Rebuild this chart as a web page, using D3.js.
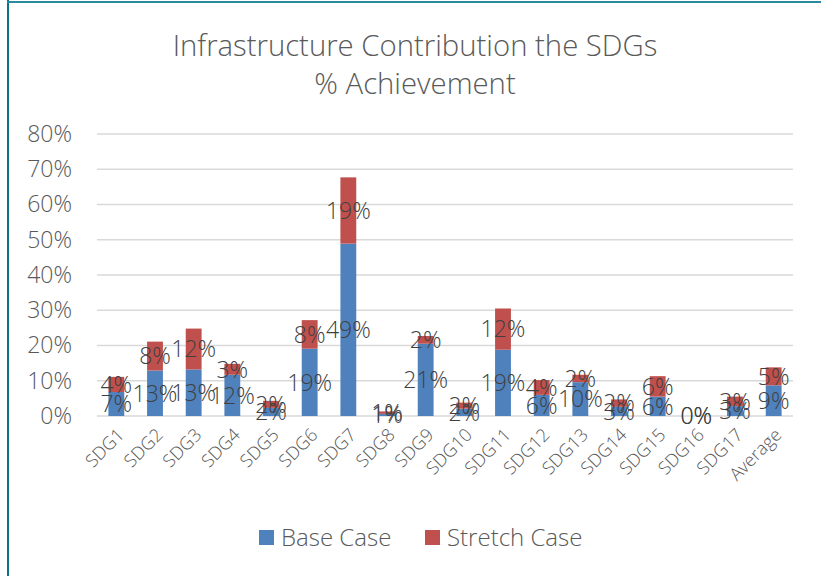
<!DOCTYPE html>
<html>
<head>
<meta charset="utf-8">
<script src="https://cdn.jsdelivr.net/npm/d3@7"></script>
<style>
  body { margin: 0; background: #fff; }
  text { font-family: "Open Sans", "Noto Sans", sans-serif; font-weight: 300; }
</style>
</head>
<body>
<div id="chart"></div>
<script>
// chart data
const categories = ['SDG1', 'SDG2', 'SDG3', 'SDG4', 'SDG5', 'SDG6', 'SDG7', 'SDG8', 'SDG9',
  'SDG10', 'SDG11', 'SDG12', 'SDG13', 'SDG14', 'SDG15', 'SDG16', 'SDG17', 'Average']
const baseCase = [0.068, 0.129, 0.132, 0.117, 0.023, 0.191, 0.489, 0.006, 0.205,
  0.021, 0.188, 0.060, 0.096, 0.026, 0.055, 0, 0.028, 0.087]
const stretchCase = [0.043, 0.082, 0.116, 0.031, 0.020, 0.081, 0.188, 0.007, 0.022,
  0.017, 0.117, 0.042, 0.021, 0.021, 0.058, 0, 0.027, 0.051]
const yTicks = [0, 0.1, 0.2, 0.3, 0.4, 0.5, 0.6, 0.7, 0.8]
const seriesNames = ['Base Case', 'Stretch Case']
const colors = ['#4f81bd', '#c0504d']

const width = 821, height = 576
const margin = {left: 97, right: 28, top: 134, bottom: 160}

let svg = d3.select('#chart').append('svg')
  .attr('width', width)
  .attr('height', height)

// frame lines (left + top)
svg.append('rect').attr('x', 7).attr('y', 0).attr('width', 2).attr('height', height).attr('fill', '#0b7489')
svg.append('rect').attr('x', 7).attr('y', 1).attr('width', width - 7).attr('height', 2).attr('fill', '#2a8a9e')

// title
svg.append('text')
  .attr('x', 415).attr('y', 56)
  .attr('text-anchor', 'middle')
  .attr('font-size', 29.3).attr('fill', '#595959')
  .text('Infrastructure Contribution the SDGs')
svg.append('text')
  .attr('x', 415).attr('y', 94)
  .attr('text-anchor', 'middle')
  .attr('font-size', 29.3).attr('fill', '#595959')
  .text('% Achievement')

let x = d3.scaleBand()
  .domain(categories)
  .range([margin.left, width - margin.right])
  .paddingInner(0.59).paddingOuter(0.295)

let y = d3.scaleLinear()
  .domain([0, 0.8])
  .range([height - margin.bottom, margin.top])

// gridlines
svg.append('g')
  .selectAll('line')
  .data(yTicks)
  .join('line')
  .attr('x1', margin.left).attr('x2', width - margin.right)
  .attr('y1', d => y(d)).attr('y2', d => y(d))
  .attr('stroke', '#d9d9d9').attr('stroke-width', 1.5)

// y axis labels
let yAxis = d3.axisLeft(y).tickValues(yTicks).tickFormat(d3.format('.0%')).tickSize(0).tickPadding(0)
let yg = svg.append('g').attr('transform', 'translate(72,0)').call(yAxis)
yg.select('.domain').remove()
yg.selectAll('text')
  .attr('font-size', 23).attr('fill', '#595959')
  .attr('font-family', '"Open Sans", "Noto Sans", sans-serif')

// stacked data
let rows = categories.map((c, i) => ({cat: c, base: baseCase[i], stretch: stretchCase[i]}))
let stack = d3.stack().keys(['base', 'stretch'])(rows)

let layers = svg.append('g')
  .selectAll('g')
  .data(stack)
  .join('g')
  .attr('fill', (d, i) => colors[i])

layers.selectAll('rect')
  .data(d => d)
  .join('rect')
  .attr('x', d => x(d.data.cat))
  .attr('width', x.bandwidth())
  .attr('y', d => y(d[1]))
  .attr('height', d => y(d[0]) - y(d[1]))

// data labels
let labels = svg.append('g')
stack.forEach(layer => {
  labels.selectAll(null)
    .data(layer)
    .join('text')
    .attr('x', d => x(d.data.cat) + x.bandwidth() / 2)
    .attr('y', d => (y(d[0]) + y(d[1])) / 2)
    .attr('dy', '0.36em')
    .attr('text-anchor', 'middle')
    .attr('font-size', 23)
    .attr('fill', '#404040')
    .text(d => d3.format('.0%')(d[1] - d[0]))
})

// x axis labels
svg.append('g')
  .selectAll('text')
  .data(categories)
  .join('text')
  .attr('text-anchor', 'end')
  .attr('font-size', 18)
  .attr('fill', '#595959')
  .attr('transform', d => `translate(${x(d) + x.bandwidth() / 2 + 9},${height - margin.bottom + 20}) rotate(-45)`)
  .text(d => d)

// legend
let legend = svg.append('g')
let legX = [259, 425]
seriesNames.forEach((name, i) => {
  legend.append('rect')
    .attr('x', legX[i]).attr('y', 530)
    .attr('width', 15).attr('height', 15)
    .attr('fill', colors[i])
  legend.append('text')
    .attr('x', legX[i] + 22).attr('y', 537)
    .attr('dy', '0.36em')
    .attr('font-size', 24).attr('fill', '#595959')
    .text(name)
})
</script>
</body>
</html>
